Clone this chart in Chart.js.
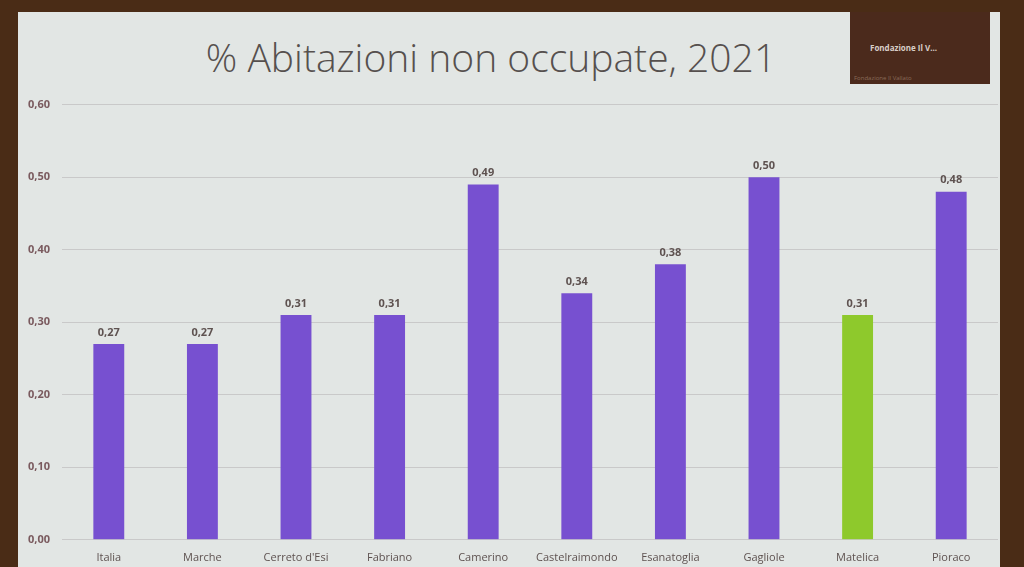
<!DOCTYPE html>
<html>
<head>
<meta charset="utf-8">
<script src="https://cdn.jsdelivr.net/npm/chart.js@4/dist/chart.umd.min.js"></script>
<style>
  html, body { margin: 0; padding: 0; }
  body { width: 1024px; height: 567px; background: #4a2c16; position: relative; overflow: hidden; font-family: "Open Sans", sans-serif; }
  #slide { position: absolute; left: 18px; top: 12px; width: 982px; height: 560px; background: #e2e6e4; }
  #title { position: absolute; left: 0; top: 18px; width: 946px; text-align: center; font-size: 39px; color: #56504e; font-weight: 300; }
  #badge { position: absolute; left: 850px; top: 12px; width: 140px; height: 72px; background: #4b2a1c; }
  #badge .t { position: absolute; left: 20px; top: 30px; font-size: 8px; font-weight: bold; color: #d8cfc8; }
  #badge .s { position: absolute; left: 4px; top: 62px; font-size: 6px; color: #8a6a5a; }
  #wrap { position: absolute; left: 4px; top: 86px; width: 994px; height: 481px; }
</style>
</head>
<body>
<div id="slide"><div id="title">% Abitazioni non occupate, 2021</div></div>
<div id="badge"><div class="t">Fondazione Il V...</div><div class="s">Fondazione Il Vallato</div></div>
<div id="wrap"><canvas id="myChart"></canvas></div>
<script>
// categorie e valori
var comuni = ['Italia', 'Marche', "Cerreto d'Esi", 'Fabriano', 'Camerino', 'Castelraimondo', 'Esanatoglia', 'Gagliole', 'Matelica', 'Pioraco'];
var quote = [0.27, 0.27, 0.31, 0.31, 0.49, 0.34, 0.38, 0.50, 0.31, 0.48];
var yTicks = [0, 0.1, 0.2, 0.3, 0.4, 0.5, 0.6];

var purple = '#7750d0';
var green = '#8ec92c';
var barColors = comuni.map(function (c) { return c === 'Matelica' ? green : purple; });

function virgola(v) {
    return v.toFixed(2).replace('.', ',');
}

// etichette sopra le barre
var valueLabels = {
    id: 'valueLabels',
    afterDatasetsDraw: function (chart) {
        var ctx = chart.ctx;
        var meta = chart.getDatasetMeta(0);
        ctx.save();
        ctx.font = 'bold 11px "Open Sans"';
        ctx.fillStyle = '#5e5250';
        ctx.textAlign = 'center';
        ctx.textBaseline = 'bottom';
        meta.data.forEach(function (bar, i) {
            ctx.fillText(virgola(quote[i]), bar.x, bar.y - 6);
        });
        ctx.restore();
    }
};

var ctx = document.getElementById('myChart').getContext('2d');
window.myChart = new Chart(ctx, {
    type: 'bar',
    data: {
        labels: comuni,
        datasets: [{
            data: quote,
            backgroundColor: barColors,
            barPercentage: 0.33,
            categoryPercentage: 1
        }]
    },
    options: {
        responsive: true,
        maintainAspectRatio: false,
        animation: false,
        layout: { padding: { top: 4, right: 0, left: 0, bottom: 0 } },
        plugins: { legend: { display: false }, tooltip: { enabled: false } },
        scales: {
            x: {
                grid: { display: false },
                border: { color: '#c9c9c9' },
                ticks: { color: '#5e5250', font: { size: 11, family: 'Open Sans' }, maxRotation: 0, autoSkip: false }
            },
            y: {
                min: 0,
                max: 0.6,
                afterBuildTicks: function (axis) {
                    axis.ticks = yTicks.map(function (v) { return { value: v }; });
                },
                afterFit: function (axis) { axis.width = 58; },
                grid: { color: '#c9c9c9', drawTicks: false },
                border: { display: false },
                ticks: {
                    padding: 12,
                    color: '#7a5a5e',
                    font: { size: 11, weight: 'bold', family: 'Open Sans' },
                    callback: function (v) { return virgola(v); }
                }
            }
        }
    },
    plugins: [valueLabels]
});
</script>
</body>
</html>
